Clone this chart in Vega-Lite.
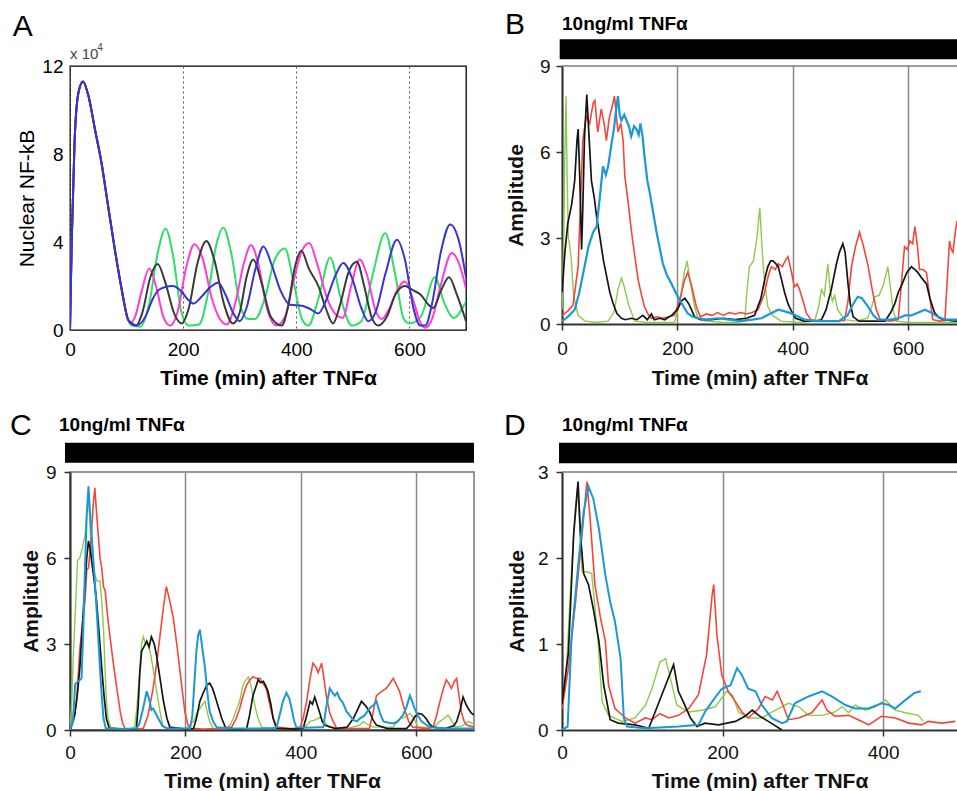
{
"$schema": "https://vega.github.io/schema/vega-lite/v6.json",
"background": "white",
"padding": {"left": 9, "top": 10, "right": 0, "bottom": 0},
"config": {"font": "Liberation Sans", "view": {"stroke": null}},
"columns": 2,
"bounds": "flush",
"align": "all",
"spacing": {"row": 142, "column": 88},
"datasets": {
"a_mag": [{"t":0,"v":0},{"t":3,"v":4},{"t":8,"v":8.5},{"t":15,"v":10.8},{"t":23,"v":11.3},{"t":32,"v":10.7},{"t":45,"v":9.0},{"t":55,"v":7.7},{"t":67,"v":5.7},{"t":79,"v":3.7},{"t":91,"v":1.9},{"t":103,"v":0.45},{"t":108,"v":0.35},{"t":115,"v":0.6},{"t":127,"v":1.8},{"t":140,"v":2.8},{"t":152,"v":2.0},{"t":165,"v":0.6},{"t":177,"v":0.2},{"t":190,"v":0.8},{"t":205,"v":2.8},{"t":220,"v":3.9},{"t":235,"v":3.2},{"t":250,"v":1.5},{"t":265,"v":0.5},{"t":277,"v":0.25},{"t":292,"v":1.2},{"t":307,"v":3.0},{"t":320,"v":3.85},{"t":333,"v":3.0},{"t":348,"v":1.0},{"t":365,"v":0.2},{"t":380,"v":0.6},{"t":395,"v":2.2},{"t":410,"v":3.6},{"t":423,"v":3.95},{"t":437,"v":3.0},{"t":455,"v":1.4},{"t":470,"v":0.7},{"t":482,"v":0.55},{"t":497,"v":2.0},{"t":512,"v":3.2},{"t":525,"v":2.5},{"t":540,"v":0.9},{"t":551,"v":0.5},{"t":565,"v":1.0},{"t":580,"v":1.9},{"t":592,"v":2.2},{"t":605,"v":1.5},{"t":620,"v":0.3},{"t":628,"v":0.1},{"t":640,"v":0.5},{"t":655,"v":2.0},{"t":675,"v":3.5},{"t":688,"v":3.0},{"t":700,"v":1.9}],
"a_green": [{"t":0,"v":0},{"t":3,"v":4},{"t":8,"v":8.5},{"t":15,"v":10.8},{"t":23,"v":11.3},{"t":32,"v":10.7},{"t":45,"v":9.0},{"t":55,"v":7.7},{"t":67,"v":5.7},{"t":79,"v":3.7},{"t":91,"v":1.9},{"t":103,"v":0.45},{"t":110,"v":0.2},{"t":125,"v":0.15},{"t":140,"v":1.2},{"t":155,"v":3.5},{"t":169,"v":4.6},{"t":182,"v":3.4},{"t":197,"v":0.8},{"t":210,"v":0.2},{"t":228,"v":0.25},{"t":245,"v":1.8},{"t":258,"v":3.8},{"t":271,"v":4.65},{"t":285,"v":3.5},{"t":300,"v":1.2},{"t":315,"v":0.5},{"t":327,"v":0.5},{"t":345,"v":1.5},{"t":362,"v":3.2},{"t":380,"v":3.7},{"t":395,"v":2.2},{"t":410,"v":0.5},{"t":421,"v":0.2},{"t":440,"v":1.5},{"t":460,"v":3.3},{"t":478,"v":1.5},{"t":498,"v":0.2},{"t":515,"v":0.4},{"t":535,"v":2.5},{"t":557,"v":4.4},{"t":575,"v":2.5},{"t":590,"v":0.5},{"t":600,"v":0.3},{"t":620,"v":0.6},{"t":645,"v":2.4},{"t":662,"v":1.2},{"t":678,"v":0.55},{"t":700,"v":1.3}],
"a_black": [{"t":0,"v":0},{"t":3,"v":4},{"t":8,"v":8.5},{"t":15,"v":10.8},{"t":23,"v":11.3},{"t":32,"v":10.7},{"t":45,"v":9.0},{"t":55,"v":7.7},{"t":67,"v":5.7},{"t":79,"v":3.7},{"t":91,"v":1.9},{"t":103,"v":0.45},{"t":110,"v":0.3},{"t":117,"v":0.2},{"t":128,"v":0.8},{"t":142,"v":2.4},{"t":155,"v":3.0},{"t":168,"v":2.2},{"t":185,"v":0.7},{"t":197,"v":0.3},{"t":210,"v":1.0},{"t":225,"v":3.0},{"t":241,"v":4.05},{"t":255,"v":3.2},{"t":272,"v":1.2},{"t":288,"v":0.3},{"t":300,"v":0.8},{"t":312,"v":2.4},{"t":324,"v":3.2},{"t":338,"v":2.2},{"t":355,"v":0.6},{"t":374,"v":0.2},{"t":385,"v":1.0},{"t":397,"v":2.8},{"t":409,"v":3.6},{"t":422,"v":2.8},{"t":439,"v":2.0},{"t":452,"v":1.0},{"t":465,"v":0.3},{"t":478,"v":1.2},{"t":492,"v":2.6},{"t":507,"v":3.1},{"t":520,"v":2.0},{"t":533,"v":0.6},{"t":545,"v":0.2},{"t":560,"v":0.6},{"t":575,"v":1.6},{"t":592,"v":2.0},{"t":607,"v":1.8},{"t":620,"v":1.6},{"t":632,"v":1.2},{"t":642,"v":1.0},{"t":656,"v":1.8},{"t":670,"v":2.4},{"t":684,"v":1.6},{"t":700,"v":0.4}],
"a_blue": [{"t":0,"v":0},{"t":3,"v":4},{"t":8,"v":8.5},{"t":15,"v":10.8},{"t":23,"v":11.3},{"t":32,"v":10.7},{"t":45,"v":9.0},{"t":55,"v":7.7},{"t":67,"v":5.7},{"t":79,"v":3.7},{"t":91,"v":1.9},{"t":103,"v":0.45},{"t":110,"v":0.25},{"t":117,"v":0.2},{"t":125,"v":0.3},{"t":135,"v":0.7},{"t":146,"v":1.4},{"t":156,"v":1.8},{"t":168,"v":1.95},{"t":182,"v":2.0},{"t":195,"v":1.8},{"t":208,"v":1.4},{"t":218,"v":1.2},{"t":232,"v":1.5},{"t":248,"v":1.95},{"t":262,"v":2.15},{"t":275,"v":1.6},{"t":288,"v":0.8},{"t":300,"v":0.4},{"t":312,"v":1.0},{"t":328,"v":2.8},{"t":342,"v":3.8},{"t":356,"v":3.0},{"t":372,"v":1.8},{"t":389,"v":1.15},{"t":410,"v":1.1},{"t":425,"v":0.95},{"t":439,"v":0.75},{"t":452,"v":1.3},{"t":468,"v":2.4},{"t":483,"v":3.05},{"t":498,"v":2.4},{"t":515,"v":1.0},{"t":527,"v":0.4},{"t":540,"v":0.8},{"t":558,"v":2.6},{"t":578,"v":4.1},{"t":592,"v":3.2},{"t":607,"v":1.0},{"t":619,"v":0.2},{"t":628,"v":0.2},{"t":640,"v":1.2},{"t":656,"v":3.6},{"t":672,"v":4.8},{"t":688,"v":4.0},{"t":700,"v":2.4}],
"b_green": [{"t":0,"v":0.5},{"t":3,"v":3.0},{"t":5,"v":6.0},{"t":7,"v":7.95},{"t":9,"v":5.0},{"t":11,"v":3.0},{"t":13,"v":2.8},{"t":16,"v":2.3},{"t":20,"v":1.0},{"t":28,"v":0.3},{"t":40,"v":0.1},{"t":60,"v":0.05},{"t":80,"v":0.1},{"t":90,"v":0.4},{"t":97,"v":1.2},{"t":103,"v":1.6},{"t":108,"v":1.3},{"t":115,"v":0.7},{"t":126,"v":0.1},{"t":150,"v":0.05},{"t":175,"v":0.05},{"t":195,"v":0.05},{"t":205,"v":0.8},{"t":212,"v":1.8},{"t":217,"v":2.2},{"t":222,"v":1.5},{"t":230,"v":0.6},{"t":236,"v":0.2},{"t":250,"v":0.1},{"t":280,"v":0.05},{"t":300,"v":0.05},{"t":317,"v":0.1},{"t":320,"v":1.0},{"t":325,"v":2.0},{"t":332,"v":2.2},{"t":338,"v":3.0},{"t":343,"v":4.05},{"t":346,"v":3.0},{"t":349,"v":2.0},{"t":353,"v":1.2},{"t":357,"v":0.6},{"t":365,"v":0.3},{"t":380,"v":0.1},{"t":410,"v":0.05},{"t":438,"v":0.1},{"t":445,"v":0.6},{"t":450,"v":1.2},{"t":455,"v":1.0},{"t":461,"v":2.1},{"t":465,"v":1.2},{"t":469,"v":0.8},{"t":473,"v":1.0},{"t":478,"v":0.5},{"t":490,"v":0.15},{"t":510,"v":0.1},{"t":530,"v":0.2},{"t":537,"v":0.6},{"t":542,"v":0.95},{"t":550,"v":1.0},{"t":558,"v":1.4},{"t":565,"v":2.0},{"t":570,"v":1.2},{"t":574,"v":0.5},{"t":580,"v":0.1},{"t":600,"v":0.05},{"t":685,"v":0.05}],
"b_red": [{"t":0,"v":0.3},{"t":10,"v":0.45},{"t":19,"v":0.65},{"t":28,"v":2.0},{"t":36,"v":6.4},{"t":42,"v":7.25},{"t":48,"v":7.0},{"t":54,"v":7.7},{"t":57,"v":7.8},{"t":62,"v":6.7},{"t":68,"v":7.5},{"t":73,"v":7.0},{"t":77,"v":6.4},{"t":82,"v":7.2},{"t":86,"v":7.5},{"t":91,"v":7.95},{"t":97,"v":6.7},{"t":102,"v":7.0},{"t":106,"v":6.4},{"t":109,"v":5.15},{"t":115,"v":4.2},{"t":120,"v":3.3},{"t":126,"v":2.4},{"t":132,"v":1.55},{"t":138,"v":1.0},{"t":143,"v":0.6},{"t":149,"v":0.35},{"t":155,"v":0.2},{"t":165,"v":0.25},{"t":175,"v":0.2},{"t":185,"v":0.25},{"t":195,"v":0.3},{"t":205,"v":0.9},{"t":212,"v":1.5},{"t":218,"v":1.8},{"t":224,"v":1.4},{"t":233,"v":0.6},{"t":240,"v":0.25},{"t":250,"v":0.35},{"t":260,"v":0.3},{"t":270,"v":0.4},{"t":280,"v":0.3},{"t":290,"v":0.4},{"t":300,"v":0.35},{"t":310,"v":0.4},{"t":320,"v":0.35},{"t":330,"v":0.4},{"t":340,"v":0.5},{"t":350,"v":1.0},{"t":358,"v":1.7},{"t":363,"v":2.0},{"t":370,"v":1.9},{"t":375,"v":2.1},{"t":382,"v":2.0},{"t":387,"v":2.2},{"t":392,"v":2.35},{"t":398,"v":1.8},{"t":403,"v":1.3},{"t":408,"v":1.4},{"t":412,"v":1.2},{"t":418,"v":0.8},{"t":424,"v":0.37},{"t":432,"v":0.15},{"t":450,"v":0.1},{"t":470,"v":0.1},{"t":490,"v":0.12},{"t":496,"v":0.8},{"t":502,"v":2.0},{"t":509,"v":2.7},{"t":516,"v":3.2},{"t":523,"v":2.7},{"t":531,"v":2.0},{"t":538,"v":1.2},{"t":545,"v":0.5},{"t":552,"v":0.15},{"t":570,"v":0.1},{"t":583,"v":0.15},{"t":589,"v":1.5},{"t":594,"v":2.7},{"t":599,"v":2.6},{"t":603,"v":2.9},{"t":608,"v":2.8},{"t":612,"v":3.4},{"t":616,"v":2.8},{"t":620,"v":1.9},{"t":626,"v":1.9},{"t":632,"v":1.8},{"t":638,"v":0.9},{"t":643,"v":0.15},{"t":655,"v":0.1},{"t":664,"v":0.12},{"t":668,"v":1.5},{"t":672,"v":2.9},{"t":675,"v":2.6},{"t":678,"v":2.5},{"t":682,"v":3.2},{"t":685,"v":3.6}],
"b_black": [{"t":0,"v":1.1},{"t":5,"v":2.5},{"t":10,"v":3.5},{"t":17,"v":4.2},{"t":22,"v":5.0},{"t":26,"v":6.4},{"t":28,"v":6.8},{"t":31,"v":5.0},{"t":34,"v":2.6},{"t":36,"v":4.0},{"t":39,"v":6.5},{"t":43,"v":8.0},{"t":47,"v":6.5},{"t":51,"v":5.0},{"t":56,"v":4.4},{"t":60,"v":3.75},{"t":66,"v":3.0},{"t":72,"v":2.2},{"t":78,"v":1.6},{"t":83,"v":1.1},{"t":89,"v":0.7},{"t":95,"v":0.37},{"t":103,"v":0.2},{"t":110,"v":0.15},{"t":120,"v":0.2},{"t":130,"v":0.15},{"t":140,"v":0.3},{"t":148,"v":0.15},{"t":155,"v":0.35},{"t":160,"v":0.15},{"t":170,"v":0.2},{"t":178,"v":0.15},{"t":190,"v":0.3},{"t":200,"v":0.5},{"t":207,"v":0.8},{"t":213,"v":0.9},{"t":220,"v":0.7},{"t":230,"v":0.25},{"t":240,"v":0.15},{"t":260,"v":0.15},{"t":280,"v":0.2},{"t":300,"v":0.15},{"t":320,"v":0.2},{"t":334,"v":0.3},{"t":345,"v":0.9},{"t":352,"v":1.6},{"t":357,"v":2.0},{"t":362,"v":2.2},{"t":366,"v":2.2},{"t":371,"v":2.1},{"t":375,"v":2.0},{"t":380,"v":1.6},{"t":386,"v":1.1},{"t":392,"v":0.7},{"t":398,"v":0.45},{"t":405,"v":0.2},{"t":420,"v":0.1},{"t":440,"v":0.1},{"t":450,"v":0.15},{"t":458,"v":0.5},{"t":463,"v":0.9},{"t":467,"v":1.2},{"t":472,"v":1.7},{"t":476,"v":2.1},{"t":481,"v":2.5},{"t":487,"v":2.8},{"t":491,"v":2.5},{"t":496,"v":1.4},{"t":500,"v":0.7},{"t":505,"v":0.25},{"t":515,"v":0.1},{"t":540,"v":0.1},{"t":560,"v":0.1},{"t":570,"v":0.4},{"t":577,"v":0.7},{"t":583,"v":1.1},{"t":590,"v":1.4},{"t":598,"v":1.8},{"t":606,"v":2.0},{"t":612,"v":1.9},{"t":617,"v":1.8},{"t":624,"v":1.6},{"t":632,"v":1.4},{"t":638,"v":0.9},{"t":646,"v":0.4},{"t":655,"v":0.2},{"t":664,"v":0.15},{"t":675,"v":0.12},{"t":685,"v":0.1}],
"b_blue": [{"t":0,"v":0.1},{"t":10,"v":0.25},{"t":22,"v":0.5},{"t":30,"v":1.1},{"t":39,"v":2.0},{"t":46,"v":2.7},{"t":54,"v":3.2},{"t":60,"v":3.4},{"t":65,"v":4.3},{"t":71,"v":5.5},{"t":76,"v":5.2},{"t":80,"v":5.5},{"t":86,"v":6.3},{"t":90,"v":6.8},{"t":94,"v":7.5},{"t":97,"v":7.95},{"t":100,"v":7.3},{"t":103,"v":7.1},{"t":108,"v":7.3},{"t":112,"v":7.1},{"t":116,"v":6.9},{"t":120,"v":6.55},{"t":125,"v":6.9},{"t":129,"v":6.8},{"t":133,"v":6.6},{"t":136,"v":7.0},{"t":140,"v":6.5},{"t":143,"v":5.85},{"t":148,"v":5.0},{"t":152,"v":4.6},{"t":158,"v":3.9},{"t":164,"v":3.2},{"t":170,"v":2.6},{"t":175,"v":2.1},{"t":182,"v":1.7},{"t":190,"v":1.4},{"t":197,"v":1.1},{"t":204,"v":0.85},{"t":211,"v":0.6},{"t":218,"v":0.37},{"t":227,"v":0.25},{"t":236,"v":0.2},{"t":250,"v":0.15},{"t":270,"v":0.2},{"t":290,"v":0.15},{"t":310,"v":0.1},{"t":330,"v":0.15},{"t":346,"v":0.2},{"t":360,"v":0.35},{"t":375,"v":0.5},{"t":385,"v":0.45},{"t":398,"v":0.37},{"t":410,"v":0.25},{"t":421,"v":0.15},{"t":440,"v":0.1},{"t":460,"v":0.1},{"t":480,"v":0.1},{"t":495,"v":0.3},{"t":505,"v":0.7},{"t":513,"v":0.95},{"t":520,"v":0.9},{"t":531,"v":0.6},{"t":540,"v":0.3},{"t":548,"v":0.15},{"t":570,"v":0.15},{"t":583,"v":0.2},{"t":595,"v":0.3},{"t":606,"v":0.3},{"t":618,"v":0.4},{"t":629,"v":0.5},{"t":640,"v":0.4},{"t":652,"v":0.25},{"t":665,"v":0.15},{"t":685,"v":0.15}],
"c_red": [{"t":0,"v":0},{"t":6,"v":0.3},{"t":11.5,"v":1.0},{"t":17,"v":2.8},{"t":22,"v":3.8},{"t":26,"v":4.5},{"t":29,"v":5.6},{"t":32,"v":5.65},{"t":36,"v":6.5},{"t":40,"v":7.8},{"t":43,"v":8.45},{"t":46,"v":7.6},{"t":49,"v":6.8},{"t":52,"v":6.0},{"t":55,"v":5.65},{"t":58,"v":5.0},{"t":61,"v":4.85},{"t":65,"v":4.0},{"t":69,"v":3.3},{"t":74,"v":2.5},{"t":78,"v":1.9},{"t":83,"v":1.2},{"t":87,"v":0.64},{"t":91,"v":0.25},{"t":95,"v":0.06},{"t":110,"v":0.03},{"t":127,"v":0.05},{"t":135,"v":0.5},{"t":144,"v":1.45},{"t":150,"v":2.3},{"t":156,"v":3.3},{"t":162,"v":4.3},{"t":167,"v":5.0},{"t":173,"v":4.5},{"t":179,"v":3.9},{"t":185,"v":3.0},{"t":190,"v":2.15},{"t":195,"v":1.3},{"t":199,"v":0.64},{"t":204,"v":0.2},{"t":208,"v":0.06},{"t":230,"v":0.03},{"t":260,"v":0.05},{"t":280,"v":0.1},{"t":288,"v":0.4},{"t":294,"v":0.75},{"t":300,"v":1.2},{"t":306,"v":1.57},{"t":312,"v":1.75},{"t":317,"v":1.86},{"t":323,"v":1.8},{"t":329,"v":1.8},{"t":335,"v":1.6},{"t":340,"v":1.45},{"t":345,"v":1.0},{"t":349,"v":0.64},{"t":354,"v":0.3},{"t":358,"v":0.1},{"t":380,"v":0.05},{"t":398,"v":0.05},{"t":404,"v":0.4},{"t":410,"v":1.0},{"t":416,"v":1.8},{"t":421,"v":2.33},{"t":426,"v":2.2},{"t":430,"v":2.0},{"t":436,"v":2.33},{"t":440,"v":1.8},{"t":444,"v":1.2},{"t":450,"v":0.6},{"t":456,"v":0.3},{"t":462,"v":0.06},{"t":490,"v":0.05},{"t":519,"v":0.06},{"t":525,"v":0.6},{"t":531,"v":1.2},{"t":540,"v":1.35},{"t":548,"v":1.45},{"t":555,"v":1.65},{"t":560,"v":1.8},{"t":565,"v":1.6},{"t":571,"v":1.35},{"t":577,"v":0.9},{"t":583,"v":0.52},{"t":588,"v":0.25},{"t":594,"v":0.1},{"t":620,"v":0.05},{"t":629,"v":0.1},{"t":635,"v":0.5},{"t":641,"v":1.0},{"t":647,"v":1.45},{"t":652,"v":1.75},{"t":657,"v":1.6},{"t":661,"v":1.45},{"t":666,"v":1.7},{"t":670,"v":1.8},{"t":674,"v":1.2},{"t":678,"v":0.64},{"t":683,"v":0.3},{"t":687,"v":0.17},{"t":700,"v":0.1}],
"c_green": [{"t":0,"v":0},{"t":3,"v":1.0},{"t":6,"v":2.75},{"t":10,"v":4.5},{"t":13,"v":5.9},{"t":17,"v":6.0},{"t":21,"v":6.3},{"t":26,"v":6.8},{"t":29,"v":7.5},{"t":32,"v":8.1},{"t":34,"v":7.4},{"t":36,"v":6.6},{"t":39,"v":5.8},{"t":43,"v":5.4},{"t":47,"v":5.2},{"t":52,"v":5.2},{"t":55,"v":4.5},{"t":58,"v":3.55},{"t":61,"v":2.0},{"t":63,"v":1.0},{"t":66,"v":0.4},{"t":70,"v":0.1},{"t":100,"v":0.03},{"t":112,"v":0.1},{"t":116,"v":0.8},{"t":121,"v":2.15},{"t":124,"v":3.0},{"t":127,"v":3.25},{"t":131,"v":3.0},{"t":136,"v":2.95},{"t":140,"v":2.6},{"t":144,"v":2.15},{"t":149,"v":1.5},{"t":153,"v":1.0},{"t":158,"v":0.4},{"t":162,"v":0.1},{"t":200,"v":0.03},{"t":214,"v":0.3},{"t":220,"v":0.6},{"t":225,"v":0.75},{"t":230,"v":0.9},{"t":234,"v":1.0},{"t":238,"v":0.6},{"t":242,"v":0.3},{"t":248,"v":0.06},{"t":270,"v":0.05},{"t":278,"v":0.2},{"t":283,"v":0.4},{"t":288,"v":0.7},{"t":294,"v":1.0},{"t":299,"v":1.5},{"t":303,"v":1.7},{"t":309,"v":1.85},{"t":313,"v":1.6},{"t":317,"v":1.2},{"t":322,"v":0.7},{"t":326,"v":0.4},{"t":332,"v":0.1},{"t":360,"v":0.05},{"t":400,"v":0.05},{"t":410,"v":0.15},{"t":416,"v":0.3},{"t":425,"v":0.35},{"t":433,"v":0.45},{"t":440,"v":0.3},{"t":448,"v":0.1},{"t":480,"v":0.05},{"t":502,"v":0.17},{"t":508,"v":0.3},{"t":515,"v":0.2},{"t":525,"v":0.1},{"t":560,"v":0.1},{"t":571,"v":0.4},{"t":580,"v":0.45},{"t":589,"v":0.58},{"t":596,"v":0.4},{"t":603,"v":0.1},{"t":630,"v":0.1},{"t":641,"v":0.3},{"t":648,"v":0.4},{"t":655,"v":0.52},{"t":662,"v":0.3},{"t":668,"v":0.1},{"t":680,"v":0.15},{"t":690,"v":0.3},{"t":700,"v":0.2}],
"c_black": [{"t":0,"v":0},{"t":8,"v":0.5},{"t":13,"v":1.3},{"t":17,"v":2.15},{"t":22,"v":3.8},{"t":26,"v":5.1},{"t":29,"v":6.0},{"t":32,"v":6.6},{"t":35,"v":6.3},{"t":37.5,"v":5.9},{"t":42,"v":5.2},{"t":46,"v":4.5},{"t":50,"v":3.5},{"t":55,"v":2.15},{"t":59,"v":1.2},{"t":63,"v":0.4},{"t":68,"v":0.06},{"t":90,"v":0.02},{"t":115,"v":0.03},{"t":118,"v":0.8},{"t":121,"v":2.0},{"t":124,"v":2.75},{"t":128,"v":2.9},{"t":133,"v":3.1},{"t":137,"v":2.9},{"t":141,"v":3.25},{"t":146,"v":3.0},{"t":150,"v":2.6},{"t":156,"v":1.8},{"t":162,"v":1.0},{"t":168,"v":0.4},{"t":173,"v":0.1},{"t":200,"v":0.03},{"t":214,"v":0.05},{"t":219,"v":0.4},{"t":225,"v":1.0},{"t":231,"v":1.3},{"t":237,"v":1.57},{"t":242,"v":1.63},{"t":247,"v":1.45},{"t":251,"v":1.2},{"t":257,"v":0.8},{"t":263,"v":0.4},{"t":270,"v":0.06},{"t":290,"v":0.03},{"t":306,"v":0.05},{"t":311,"v":0.5},{"t":317,"v":1.2},{"t":322,"v":1.5},{"t":326,"v":1.75},{"t":330,"v":1.65},{"t":335,"v":1.7},{"t":339,"v":1.55},{"t":343,"v":1.35},{"t":348,"v":0.9},{"t":352,"v":0.4},{"t":358,"v":0.06},{"t":390,"v":0.03},{"t":404,"v":0.05},{"t":410,"v":0.5},{"t":416,"v":1.0},{"t":420,"v":0.9},{"t":424,"v":1.15},{"t":428,"v":0.9},{"t":433,"v":0.58},{"t":437,"v":0.3},{"t":441,"v":0.17},{"t":460,"v":0.05},{"t":480,"v":0.1},{"t":491,"v":0.4},{"t":498,"v":0.7},{"t":505,"v":1.0},{"t":512,"v":0.85},{"t":519,"v":0.64},{"t":525,"v":0.35},{"t":531,"v":0.17},{"t":550,"v":0.05},{"t":583,"v":0.05},{"t":590,"v":0.2},{"t":597,"v":0.45},{"t":603,"v":0.58},{"t":610,"v":0.55},{"t":617,"v":0.4},{"t":623,"v":0.2},{"t":629,"v":0.1},{"t":650,"v":0.05},{"t":665,"v":0.15},{"t":670,"v":0.3},{"t":676,"v":0.7},{"t":681,"v":1.15},{"t":686,"v":0.9},{"t":690,"v":0.75},{"t":695,"v":0.6},{"t":700,"v":0.52}],
"c_blue": [{"t":0,"v":0},{"t":5,"v":0.3},{"t":9,"v":1.6},{"t":14,"v":1.7},{"t":20,"v":1.8},{"t":23,"v":3.5},{"t":26,"v":5.65},{"t":29,"v":7.5},{"t":32,"v":8.5},{"t":35,"v":7.5},{"t":37.5,"v":6.8},{"t":42,"v":5.5},{"t":46,"v":4.25},{"t":49,"v":3.2},{"t":52,"v":2.15},{"t":55,"v":1.2},{"t":58,"v":0.4},{"t":62,"v":0.06},{"t":90,"v":0.03},{"t":115,"v":0.05},{"t":120,"v":0.2},{"t":126,"v":0.7},{"t":133,"v":1.35},{"t":138,"v":1.0},{"t":141,"v":0.7},{"t":144,"v":0.75},{"t":148,"v":0.6},{"t":153,"v":0.4},{"t":160,"v":0.15},{"t":167,"v":0.06},{"t":190,"v":0.05},{"t":208,"v":0.05},{"t":212,"v":0.5},{"t":216,"v":1.8},{"t":219,"v":2.75},{"t":222,"v":3.3},{"t":225,"v":3.5},{"t":229,"v":2.9},{"t":234,"v":2.15},{"t":238,"v":1.3},{"t":242,"v":0.65},{"t":248,"v":0.3},{"t":254,"v":0.1},{"t":280,"v":0.05},{"t":320,"v":0.05},{"t":350,"v":0.05},{"t":358,"v":0.1},{"t":363,"v":0.5},{"t":369,"v":1.0},{"t":375,"v":1.3},{"t":380,"v":1.1},{"t":384,"v":0.75},{"t":388,"v":0.35},{"t":392,"v":0.1},{"t":410,"v":0.08},{"t":430,"v":0.1},{"t":439,"v":0.1},{"t":444,"v":0.8},{"t":450,"v":1.45},{"t":455,"v":1.3},{"t":459,"v":1.2},{"t":463,"v":1.3},{"t":467,"v":1.1},{"t":473,"v":0.95},{"t":479,"v":0.65},{"t":485,"v":0.5},{"t":491,"v":0.35},{"t":497,"v":0.3},{"t":502,"v":0.4},{"t":510,"v":0.5},{"t":519,"v":0.75},{"t":525,"v":0.85},{"t":531,"v":1.0},{"t":537,"v":0.6},{"t":543,"v":0.3},{"t":552,"v":0.25},{"t":560,"v":0.23},{"t":568,"v":0.3},{"t":577,"v":0.52},{"t":583,"v":0.8},{"t":589,"v":1.2},{"t":593,"v":1.0},{"t":597,"v":0.75},{"t":603,"v":0.5},{"t":609,"v":0.3},{"t":616,"v":0.2},{"t":623,"v":0.1},{"t":650,"v":0.05},{"t":700,"v":0.05}],
"d_green": [{"t":0,"v":0.25},{"t":6,"v":0.8},{"t":12,"v":1.88},{"t":16,"v":2.5},{"t":19,"v":2.81},{"t":21,"v":2.58},{"t":25,"v":1.84},{"t":31,"v":1.84},{"t":37,"v":1.82},{"t":44,"v":1.14},{"t":50,"v":0.33},{"t":58,"v":0.17},{"t":75,"v":0.1},{"t":91,"v":0.14},{"t":104,"v":0.29},{"t":112,"v":0.48},{"t":122,"v":0.79},{"t":129,"v":0.83},{"t":135,"v":0.6},{"t":143,"v":0.29},{"t":158,"v":0.21},{"t":174,"v":0.23},{"t":191,"v":0.27},{"t":205,"v":0.45},{"t":212,"v":0.41},{"t":220,"v":0.21},{"t":232,"v":0.14},{"t":249,"v":0.14},{"t":262,"v":0.21},{"t":282,"v":0.31},{"t":295,"v":0.27},{"t":307,"v":0.17},{"t":324,"v":0.17},{"t":340,"v":0.21},{"t":349,"v":0.27},{"t":357,"v":0.2},{"t":365,"v":0.29},{"t":378,"v":0.23},{"t":390,"v":0.27},{"t":403,"v":0.35},{"t":415,"v":0.23},{"t":428,"v":0.2},{"t":444,"v":0.17},{"t":450,"v":0.1}],
"d_red": [{"t":0,"v":0.25},{"t":8,"v":0.72},{"t":17,"v":1.5},{"t":25,"v":2.27},{"t":31,"v":2.89},{"t":35,"v":2.46},{"t":41,"v":1.69},{"t":48,"v":1.3},{"t":54,"v":1.03},{"t":58,"v":0.52},{"t":66,"v":0.25},{"t":79,"v":0.14},{"t":91,"v":0.08},{"t":104,"v":0.14},{"t":112,"v":0.12},{"t":122,"v":0.19},{"t":133,"v":0.14},{"t":145,"v":0.17},{"t":158,"v":0.25},{"t":170,"v":0.41},{"t":180,"v":0.87},{"t":187,"v":1.57},{"t":189,"v":1.69},{"t":193,"v":1.1},{"t":199,"v":0.64},{"t":207,"v":0.45},{"t":216,"v":0.33},{"t":224,"v":0.21},{"t":232,"v":0.14},{"t":245,"v":0.25},{"t":253,"v":0.39},{"t":262,"v":0.35},{"t":268,"v":0.45},{"t":276,"v":0.27},{"t":282,"v":0.12},{"t":295,"v":0.14},{"t":311,"v":0.2},{"t":324,"v":0.35},{"t":330,"v":0.23},{"t":340,"v":0.16},{"t":357,"v":0.17},{"t":369,"v":0.12},{"t":382,"v":0.06},{"t":398,"v":0.16},{"t":415,"v":0.14},{"t":432,"v":0.08},{"t":448,"v":0.06},{"t":456,"v":0.1},{"t":473,"v":0.08},{"t":490,"v":0.1}],
"d_black": [{"t":0,"v":0.3},{"t":8,"v":0.9},{"t":14.5,"v":2.27},{"t":20,"v":2.89},{"t":23,"v":2.27},{"t":27,"v":1.82},{"t":33,"v":1.69},{"t":39,"v":1.41},{"t":46,"v":1.03},{"t":52,"v":0.52},{"t":60,"v":0.12},{"t":70,"v":0.08},{"t":91,"v":0.06},{"t":108,"v":0.02},{"t":116,"v":0.21},{"t":129,"v":0.52},{"t":139,"v":0.76},{"t":145,"v":0.45},{"t":151,"v":0.33},{"t":160,"v":0.14},{"t":168,"v":0.04},{"t":178,"v":0.08},{"t":195,"v":0.06},{"t":216,"v":0.1},{"t":228,"v":0.16},{"t":237,"v":0.23},{"t":245,"v":0.17},{"t":257,"v":0.1},{"t":274,"v":0.0}],
"d_blue": [{"t":0,"v":0},{"t":7,"v":0.04},{"t":12,"v":1.1},{"t":21,"v":2.0},{"t":27,"v":2.54},{"t":33,"v":2.83},{"t":39,"v":2.69},{"t":46,"v":2.34},{"t":54,"v":1.8},{"t":60,"v":1.49},{"t":66,"v":1.26},{"t":73,"v":0.83},{"t":77,"v":0.14},{"t":81,"v":0.04},{"t":104,"v":0.02},{"t":145,"v":0.04},{"t":170,"v":0.06},{"t":178,"v":0.21},{"t":187,"v":0.33},{"t":199,"v":0.48},{"t":210,"v":0.52},{"t":218,"v":0.72},{"t":224,"v":0.64},{"t":232,"v":0.48},{"t":241,"v":0.45},{"t":249,"v":0.29},{"t":261,"v":0.14},{"t":274,"v":0.08},{"t":280,"v":0.1},{"t":290,"v":0.31},{"t":307,"v":0.39},{"t":324,"v":0.45},{"t":336,"v":0.39},{"t":353,"v":0.29},{"t":365,"v":0.25},{"t":382,"v":0.25},{"t":398,"v":0.31},{"t":407,"v":0.29},{"t":415,"v":0.25},{"t":428,"v":0.35},{"t":439,"v":0.43},{"t":447,"v":0.45}]
},
"concat": [
{
 "width": 396, "height": 264,
 "view": {"stroke": "#000", "strokeWidth": 1.3},
 "layer": [
  {
   "encoding": {
    "x": {"field": "t", "type": "quantitative", "scale": {"domain": [0, 700], "nice": false, "zero": false},
          "axis": {"values": [0, 200, 400, 600], "title": "Time (min) after TNFα", "grid": true, "gridDash": [2, 3], "gridColor": "#555", "gridWidth": 1, "domain": false, "ticks": false, "labelFlush": false, "labelFontSize": 19, "labelColor": "#000", "labelPadding": 10, "titleFontSize": 21, "titleFontWeight": "bold", "titleColor": "#000", "titlePadding": 8}},
    "y": {"field": "v", "type": "quantitative", "scale": {"domain": [0, 12], "nice": false},
          "axis": {"values": [0, 4, 8, 12], "title": "Nuclear NF-kB", "grid": false, "domain": false, "ticks": false, "labelFontSize": 19, "labelColor": "#000", "labelPadding": 7, "titleFontSize": 21, "titleFontWeight": "normal", "titleColor": "#000", "titlePadding": 4}}
   },
   "layer": [
    {"data": {"name": "a_green"}, "mark": {"type": "line", "color": "#2edf66", "strokeWidth": 2, "interpolate": "monotone", "clip": true}},
    {"data": {"name": "a_mag"}, "mark": {"type": "line", "color": "#ff3cd8", "strokeWidth": 2, "interpolate": "monotone", "clip": true}},
    {"data": {"name": "a_black"}, "mark": {"type": "line", "color": "#3a3a3a", "strokeWidth": 2, "interpolate": "monotone", "clip": true}},
    {"data": {"name": "a_blue"}, "mark": {"type": "line", "color": "#3535d0", "strokeWidth": 2, "interpolate": "monotone", "clip": true}}
   ]
  },
  {"data": {"values": [{}]}, "mark": {"type": "text", "text": "A", "fontSize": 30, "align": "left", "baseline": "alphabetic", "color": "#000"},
   "encoding": {"x": {"datum": -101, "type": "quantitative"}, "y": {"datum": 13.35, "type": "quantitative"}}},
  {"data": {"values": [{}]}, "mark": {"type": "text", "text": "x 10", "fontSize": 15, "align": "left", "baseline": "alphabetic", "color": "#444"},
   "encoding": {"x": {"datum": 0, "type": "quantitative"}, "y": {"datum": 12.32, "type": "quantitative"}}},
  {"data": {"values": [{}]}, "mark": {"type": "text", "text": "4", "fontSize": 10, "align": "left", "baseline": "alphabetic", "color": "#444"},
   "encoding": {"x": {"datum": 48, "type": "quantitative"}, "y": {"datum": 12.68, "type": "quantitative"}}}
 ]
},
{
 "width": 395, "height": 258,
 "layer": [
  {"data": {"values": [{}]}, "mark": {"type": "rect", "color": "#000", "clip": false},
   "encoding": {"x": {"datum": -4, "type": "quantitative"}, "x2": {"datum": 685}, "y": {"datum": 9.234, "type": "quantitative"}, "y2": {"datum": 9.93}}},
  {"data": {"values": [{}]}, "mark": {"type": "rule", "color": "#7a7a7a", "strokeWidth": 1.5},
   "encoding": {"x": {"datum": 0, "type": "quantitative"}, "x2": {"datum": 685}, "y": {"datum": 9, "type": "quantitative"}}},
  {
   "encoding": {
    "x": {"field": "t", "type": "quantitative", "scale": {"domain": [0, 685], "nice": false, "zero": false},
          "axis": {"values": [0, 200, 400, 600], "title": "Time (min) after TNFα", "grid": true, "gridColor": "#8a8a8a", "gridWidth": 1.5, "domainColor": "#333", "domainWidth": 2, "tickColor": "#333", "tickWidth": 1.5, "tickSize": 6, "labelFlush": false, "labelFontSize": 19, "labelColor": "#111", "labelPadding": 9, "titleFontSize": 21, "titleFontWeight": "bold", "titleColor": "#111", "titlePadding": 9}},
    "y": {"field": "v", "type": "quantitative", "scale": {"domain": [0, 9], "nice": false},
          "axis": {"values": [0, 3, 6, 9], "title": "Amplitude", "grid": false, "domainColor": "#333", "domainWidth": 2, "tickColor": "#333", "tickWidth": 1.5, "tickSize": 6, "labelFontSize": 19, "labelColor": "#111", "labelPadding": 6, "titleFontSize": 21, "titleFontWeight": "bold", "titleColor": "#111", "titlePadding": 13}}
   },
   "layer": [
    {"data": {"name": "b_green"}, "mark": {"type": "line", "color": "#8dcb4a", "strokeWidth": 1.4, "clip": true}},
    {"data": {"name": "b_red"}, "mark": {"type": "line", "color": "#f2473a", "strokeWidth": 1.6, "clip": true}},
    {"data": {"name": "b_black"}, "mark": {"type": "line", "color": "#151515", "strokeWidth": 1.7, "clip": true}},
    {"data": {"name": "b_blue"}, "mark": {"type": "line", "color": "#1b98d5", "strokeWidth": 2.2, "clip": true}}
   ]
  },
  {"data": {"values": [{}]}, "mark": {"type": "text", "text": "B", "fontSize": 30, "align": "left", "baseline": "alphabetic", "color": "#000"},
   "encoding": {"x": {"datum": -98.8, "type": "quantitative"}, "y": {"datum": 10.1, "type": "quantitative"}}},
  {"data": {"values": [{}]}, "mark": {"type": "text", "text": "10ng/ml TNFα", "fontSize": 19, "fontWeight": "bold", "align": "left", "baseline": "alphabetic", "color": "#000"},
   "encoding": {"x": {"datum": 0, "type": "quantitative"}, "y": {"datum": 10.245, "type": "quantitative"}}}
 ]
},
{
 "width": 404, "height": 258,
 "view": {"stroke": "#777", "strokeWidth": 1.5},
 "layer": [
  {"data": {"values": [{}]}, "mark": {"type": "rect", "color": "#000", "clip": false},
   "encoding": {"x": {"datum": -8.7, "type": "quantitative"}, "x2": {"datum": 700}, "y": {"datum": 9.324, "type": "quantitative"}, "y2": {"datum": 10.022}}},
  {
   "encoding": {
    "x": {"field": "t", "type": "quantitative", "scale": {"domain": [0, 700], "nice": false, "zero": false},
          "axis": {"values": [0, 200, 400, 600], "title": "Time (min) after TNFα", "grid": true, "gridColor": "#8a8a8a", "gridWidth": 1.5, "domainColor": "#333", "domainWidth": 2, "tickColor": "#333", "tickWidth": 1.5, "tickSize": 6, "labelFlush": false, "labelFontSize": 19, "labelColor": "#111", "labelPadding": 7, "titleFontSize": 21, "titleFontWeight": "bold", "titleColor": "#111", "titlePadding": 8}},
    "y": {"field": "v", "type": "quantitative", "scale": {"domain": [0, 9], "nice": false},
          "axis": {"values": [0, 3, 6, 9], "title": "Amplitude", "grid": false, "domainColor": "#333", "domainWidth": 2, "tickColor": "#333", "tickWidth": 1.5, "tickSize": 6, "labelFontSize": 19, "labelColor": "#111", "labelPadding": 8, "titleFontSize": 21, "titleFontWeight": "bold", "titleColor": "#111", "titlePadding": 4}}
   },
   "layer": [
    {"data": {"name": "c_green"}, "mark": {"type": "line", "color": "#8dcb4a", "strokeWidth": 1.4, "clip": true}},
    {"data": {"name": "c_red"}, "mark": {"type": "line", "color": "#f2473a", "strokeWidth": 1.6, "clip": true}},
    {"data": {"name": "c_black"}, "mark": {"type": "line", "color": "#151515", "strokeWidth": 1.7, "clip": true}},
    {"data": {"name": "c_blue"}, "mark": {"type": "line", "color": "#1b98d5", "strokeWidth": 2.0, "clip": true}}
   ]
  },
  {"data": {"values": [{}]}, "mark": {"type": "text", "text": "C", "fontSize": 30, "align": "left", "baseline": "alphabetic", "color": "#000"},
   "encoding": {"x": {"datum": -104, "type": "quantitative"}, "y": {"datum": 10.3, "type": "quantitative"}}},
  {"data": {"values": [{}]}, "mark": {"type": "text", "text": "10ng/ml TNFα", "fontSize": 19, "fontWeight": "bold", "align": "left", "baseline": "alphabetic", "color": "#000"},
   "encoding": {"x": {"datum": -19, "type": "quantitative"}, "y": {"datum": 10.43, "type": "quantitative"}}}
 ]
},
{
 "width": 395, "height": 258,
 "layer": [
  {"data": {"values": [{}]}, "mark": {"type": "rect", "color": "#000", "clip": false},
   "encoding": {"x": {"datum": -3.7, "type": "quantitative"}, "x2": {"datum": 492}, "y": {"datum": 3.101, "type": "quantitative"}, "y2": {"datum": 3.341}}},
  {"data": {"values": [{}]}, "mark": {"type": "rule", "color": "#7a7a7a", "strokeWidth": 1.5},
   "encoding": {"x": {"datum": 0, "type": "quantitative"}, "x2": {"datum": 492}, "y": {"datum": 3, "type": "quantitative"}}},
  {
   "encoding": {
    "x": {"field": "t", "type": "quantitative", "scale": {"domain": [0, 492], "nice": false, "zero": false},
          "axis": {"values": [0, 200, 400], "title": "Time (min) after TNFα", "grid": true, "gridColor": "#8a8a8a", "gridWidth": 1.5, "domainColor": "#333", "domainWidth": 2, "tickColor": "#333", "tickWidth": 1.5, "tickSize": 6, "labelFlush": false, "labelFontSize": 19, "labelColor": "#111", "labelPadding": 7, "titleFontSize": 21, "titleFontWeight": "bold", "titleColor": "#111", "titlePadding": 8}},
    "y": {"field": "v", "type": "quantitative", "scale": {"domain": [0, 3], "nice": false},
          "axis": {"values": [0, 1, 2, 3], "format": "d", "title": "Amplitude", "grid": false, "domainColor": "#333", "domainWidth": 2, "tickColor": "#333", "tickWidth": 1.5, "tickSize": 6, "labelFontSize": 19, "labelColor": "#111", "labelPadding": 8, "titleFontSize": 21, "titleFontWeight": "bold", "titleColor": "#111", "titlePadding": 10}}
   },
   "layer": [
    {"data": {"name": "d_green"}, "mark": {"type": "line", "color": "#8dcb4a", "strokeWidth": 1.4, "clip": true}},
    {"data": {"name": "d_red"}, "mark": {"type": "line", "color": "#f2473a", "strokeWidth": 1.6, "clip": true}},
    {"data": {"name": "d_black"}, "mark": {"type": "line", "color": "#151515", "strokeWidth": 1.7, "clip": true}},
    {"data": {"name": "d_blue"}, "mark": {"type": "line", "color": "#1b98d5", "strokeWidth": 2.0, "clip": true}}
   ]
  },
  {"data": {"values": [{}]}, "mark": {"type": "text", "text": "D", "fontSize": 30, "align": "left", "baseline": "alphabetic", "color": "#000"},
   "encoding": {"x": {"datum": -72.2, "type": "quantitative"}, "y": {"datum": 3.43, "type": "quantitative"}}},
  {"data": {"values": [{}]}, "mark": {"type": "text", "text": "10ng/ml TNFα", "fontSize": 19, "fontWeight": "bold", "align": "left", "baseline": "alphabetic", "color": "#000"},
   "encoding": {"x": {"datum": 0, "type": "quantitative"}, "y": {"datum": 3.477, "type": "quantitative"}}}
 ]
}
]
}
